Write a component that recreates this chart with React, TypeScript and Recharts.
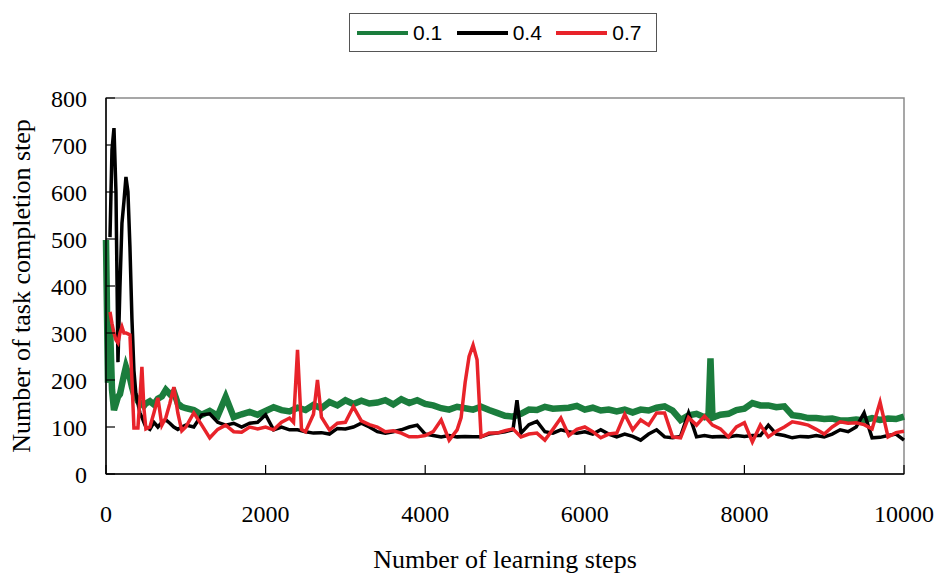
import { LineChart, Line, XAxis, YAxis, ReferenceArea, Label } from "recharts"

const steps = [
  0, 25, 50, 75, 100, 125, 150, 175, 200, 225, 250, 275, 300, 325, 350, 375, 400, 425, 450, 475, 500,
  550, 600, 650, 700, 750, 800, 850, 900, 950, 1000,
  1100, 1200, 1300, 1400, 1500, 1600, 1700, 1800, 1900, 2000, 2100, 2200, 2300,
  2350, 2400, 2450, 2500,
  2600, 2650, 2700,
  2800, 2900, 3000, 3100, 3200, 3300, 3400, 3500, 3600, 3700, 3800, 3900, 4000, 4100, 4200, 4300, 4400,
  4450, 4500, 4550, 4600, 4650, 4700,
  4800, 4900, 5000, 5100, 5150, 5200,
  5300, 5400, 5500, 5600, 5700, 5800, 5900, 6000, 6100, 6200, 6300, 6400, 6500, 6600, 6700, 6800, 6900, 7000, 7100, 7200, 7300, 7400, 7500,
  7550, 7575, 7600,
  7700, 7800, 7900, 8000, 8100, 8200, 8300, 8400, 8500, 8600, 8700, 8800, 8900, 9000, 9100, 9200, 9300, 9400, 9500, 9600, 9700, 9800, 9900, 10000,
]

const rate01 = [
  498, 194, 320, 180, 136, 150, 164, 170, 190, 210, 228, 215, 204, 185, 170, 164, 155, 150, 151, 145, 150,
  155, 148, 160, 165, 179, 170, 175, 150, 143, 140,
  136, 126, 134, 124, 164, 121, 127, 132, 126, 134, 142, 136, 133,
  null, 141, null, 136,
  147, null, 140,
  153, 146, 157, 149, 156, 150, 152, 157, 148, 159, 151, 157, 149, 146, 140, 137, 143,
  null, 140, null, 137, null, 143,
  136, 130, 124, 122, null, 128,
  137, 136, 143, 139, 140, 141, 145, 137, 141, 135, 137, 133, 137, 131, 137, 135, 141, 144, 135, 115, 125, 128, 121,
  125, 246, 120,
  126, 128, 136, 139, 151, 146, 146, 142, 144, 125, 123, 119, 119, 117, 118, 114, 114, 116, 114, 119, 115, 118, 117, 122,
]

const rate04 = [
  null, null, 504, 690, 736, 600, 238, 400, 534, 580, 632, 600, 483, 330, 220, 170, 150, 130, 121, 110, 100,
  95, 110, 100, 110, 115, 108, 100, 95, 100, 104,
  100, 126, 128, 110, 104, 108, 100, 108, 110, 126, 94, 100, 94,
  null, 94, null, 90,
  87, null, 88,
  85, 97, 96, 100, 108, 100, 90, 87, 90, 94, 100, 104, 85, 82, 79, 82, 79,
  null, 80, null, 79, null, 79,
  85, 87, 90, 94, 157, 87,
  105, 112, 90, 87, 94, 90, 87, 90, 85, 94, 85, 79, 85, 80, 72, 85, 94, 79, 77, 80, 130, 79, 82,
  null, null, 79,
  80, 79, 82, 80, 82, 82, 104, 85, 82, 77, 80, 79, 82, 79, 85, 94, 90, 100, 130, 77, 78, 82, 85, 72,
]

const rate07 = [
  null, null, 345, 320, 300, 285, 279, 300, 313, 300, 300, 298, 296, 200, 98, 98, 98, 160, 228, 140, 96,
  100, 130, 162, 104, 120, 150, 185, 130, 92, 100,
  130, 104, 77, 95, 104, 90, 89, 100, 96, 100, 94, 110, 119,
  110, 264, 95, 90,
  127, 200, 121,
  94, 108, 110, 143, 113, 105, 100, 90, 92, 87, 79, 79, 82, 90, 115, 72, 94,
  120, 194, 250, 274, 243, 79,
  87, 87, 92, 96, null, 79,
  85, 87, 72, 95, 119, 82, 95, 100, 90, 77, 85, 87, 127, 94, 115, 104, 130, 130, 79, 77, 120, 104, 123,
  null, null, 104,
  96, 79, 100, 109, 68, 104, 79, 91, 100, 111, 108, 104, 95, 85, 100, 111, 108, 109, 105, 96, 153, 79, 88, 91,
]

const xTicks = [0, 2000, 4000, 6000, 8000, 10000]
const yTicks = [0, 100, 200, 300, 400, 500, 600, 700, 800]

const series = [
  { key: "r01", name: "0.1", color: "#1b7d3d", width: 6.5 },
  { key: "r04", name: "0.4", color: "#000000", width: 3.5 },
  { key: "r07", name: "0.7", color: "#e8232a", width: 3.5 },
]

const data = steps.map((step, i) => ({
  step,
  r01: rate01[i],
  r04: rate04[i],
  r07: rate07[i],
}))

const serif = "'Liberation Serif', 'Times New Roman', serif"
const sans = "'Liberation Sans', Arial, sans-serif"

function ChartLegend() {
  return (
    <div
      style={{
        position: "absolute",
        left: 349,
        top: 13,
        width: 308,
        height: 39,
        boxSizing: "border-box",
        border: "1px solid #555",
        display: "flex",
        alignItems: "center",
        paddingLeft: 7,
        fontFamily: sans,
        fontSize: 21,
        color: "#000",
      }}
    >
      {series.map((s) => (
        <div key={s.key} style={{ width: 100, display: "flex", alignItems: "center" }}>
          <div style={{ width: 51, height: 4, background: s.color, marginRight: 5 }} />
          <span>{s.name}</span>
        </div>
      ))}
    </div>
  )
}

export default function App() {
  return (
    <div style={{ position: "absolute", left: 0, top: 0, width: 937, height: 573, background: "#fff" }}>
      <LineChart width={937} height={573} data={data} margin={{ top: 98, right: 33, bottom: 0, left: 0 }}>
        <ReferenceArea x1={0} x2={10000} y1={0} y2={800} fill="none" stroke="#8a8a8a" strokeWidth={1.5} />
        <XAxis
          type="number"
          dataKey="step"
          domain={[0, 10000]}
          ticks={xTicks}
          interval={0}
          height={99}
          tickSize={-9}
          tickMargin={40}
          axisLine={{ stroke: "#000", strokeWidth: 1.5 }}
          tickLine={{ stroke: "#000", strokeWidth: 1.2 }}
          tick={{ fill: "#000", fontSize: 24, fontFamily: serif }}
        >
          <Label
            value="Number of learning steps"
            position="insideBottom"
            offset={5}
            style={{ fontSize: 26, fontFamily: serif, fill: "#000" }}
          />
        </XAxis>
        <YAxis
          type="number"
          domain={[0, 800]}
          ticks={yTicks}
          interval={0}
          width={106}
          tickSize={-9}
          tickMargin={28}
          axisLine={{ stroke: "#000", strokeWidth: 1.5 }}
          tickLine={{ stroke: "#000", strokeWidth: 1.2 }}
          tick={{ fill: "#000", fontSize: 24, fontFamily: serif }}
        >
          <Label
            value="Number of task completion step"
            angle={-90}
            position="insideLeft"
            offset={21}
            style={{ fontSize: 26, fontFamily: serif, fill: "#000", textAnchor: "middle" }}
          />
        </YAxis>
        {series.map((s) => (
          <Line
            key={s.key}
            type="linear"
            dataKey={s.key}
            name={s.name}
            stroke={s.color}
            strokeWidth={s.width}
            dot={false}
            connectNulls
            isAnimationActive={false}
          />
        ))}
      </LineChart>
      <ChartLegend />
    </div>
  )
}
